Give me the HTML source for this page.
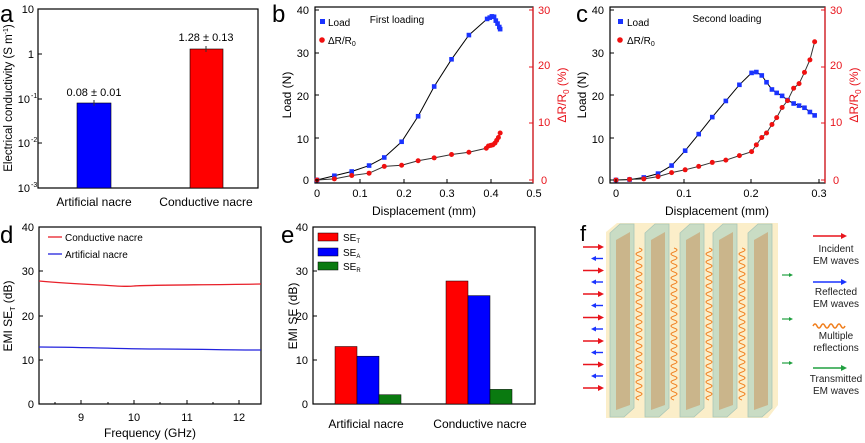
<!DOCTYPE html>
<html><head><meta charset="utf-8"><style>
body{margin:0;background:#fff}
svg{display:block;font-family:"Liberation Sans",Arial,sans-serif}
</style></head><body>
<svg width="865" height="443" viewBox="0 0 865 443" xmlns="http://www.w3.org/2000/svg">
<!-- Panel a -->
<text x="0" y="22" font-size="24">a</text>
<rect x="38" y="9" width="220" height="179" fill="none" stroke="#000" stroke-width="1.2"/>
<g font-size="11" text-anchor="end">
<text x="34" y="13">10</text>
<text x="34" y="58">1</text>
<text x="30" y="103">10</text><text x="31" y="98" font-size="7" text-anchor="start">-1</text>
<text x="30" y="147">10</text><text x="31" y="142" font-size="7" text-anchor="start">-2</text>
<text x="30" y="192">10</text><text x="31" y="187" font-size="7" text-anchor="start">-3</text>
</g>
<g stroke="#000"><line x1="38" y1="54" x2="42" y2="54"/><line x1="38" y1="99" x2="42" y2="99"/><line x1="38" y1="143" x2="42" y2="143"/></g>
<rect x="77" y="103" width="34" height="85" fill="#0000ff" stroke="#000" stroke-width="0.6"/>
<rect x="190" y="49" width="33" height="139" fill="#ff0000" stroke="#000" stroke-width="0.6"/>
<g stroke="#333"><line x1="94" y1="100" x2="94" y2="106"/><line x1="206" y1="46" x2="206" y2="52"/></g>
<text x="94" y="96" font-size="11" text-anchor="middle">0.08 ± 0.01</text>
<text x="206" y="41" font-size="11" text-anchor="middle">1.28 ± 0.13</text>
<text x="94" y="206" font-size="12" text-anchor="middle">Artificial nacre</text>
<text x="206" y="206" font-size="12" text-anchor="middle">Conductive nacre</text>
<text transform="translate(12,98) rotate(-90)" font-size="11.5" text-anchor="middle">Electrical conductivity (S m<tspan font-size="7" dy="-4">-1</tspan><tspan dy="4">)</tspan></text>

<!-- Panel b -->
<text x="272" y="22" font-size="24">b</text>
<rect x="315" y="7" width="218" height="176" fill="none" stroke="#000" stroke-width="1.2"/>
<line x1="533" y1="7" x2="533" y2="183" stroke="#e8141c" stroke-width="1.2"/>
<g font-size="11" text-anchor="end">
<text x="309" y="14">40</text><text x="309" y="57">30</text><text x="309" y="100">20</text><text x="309" y="143">10</text><text x="309" y="184">0</text>
</g>
<g fill="#e8141c" font-size="11"><text x="538" y="14">30</text><text x="538" y="69">20</text><text x="538" y="126">10</text><text x="541" y="184">0</text></g>
<g font-size="11" text-anchor="middle">
<text x="317" y="197">0</text><text x="360" y="197">0.1</text><text x="404" y="197">0.2</text><text x="447" y="197">0.3</text><text x="491" y="197">0.4</text><text x="534" y="197">0.5</text>
</g>
<text x="424" y="215" font-size="12" text-anchor="middle">Displacement (mm)</text>
<text transform="translate(291,95) rotate(-90)" font-size="12" text-anchor="middle">Load (N)</text>
<text transform="translate(566,95) rotate(-90)" font-size="12" fill="#e8141c" text-anchor="middle">ΔR/R<tspan font-size="8" dy="3">0</tspan><tspan dy="-3"> (%)</tspan></text>
<text x="397" y="23" font-size="10" text-anchor="middle">First loading</text>
<rect x="320" y="19" width="5" height="5" fill="#1a33ff"/><text x="328" y="26" font-size="10">Load</text>
<circle cx="322" cy="40" r="2.8" fill="#f01010"/><text x="328" y="44" font-size="10">ΔR/R<tspan font-size="7" dy="2">0</tspan></text>
<g id="bplot"></g>

<!-- Panel c -->
<text x="576" y="22" font-size="24">c</text>
<rect x="610" y="7" width="215" height="176" fill="none" stroke="#000" stroke-width="1.2"/>
<line x1="825" y1="7" x2="825" y2="183" stroke="#e8141c" stroke-width="1.2"/>
<g font-size="11" text-anchor="end">
<text x="604" y="14">40</text><text x="604" y="57">30</text><text x="604" y="100">20</text><text x="604" y="143">10</text><text x="604" y="184">0</text>
</g>
<g fill="#e8141c" font-size="11"><text x="830" y="14">30</text><text x="830" y="69">20</text><text x="830" y="126">10</text><text x="833" y="184">0</text></g>
<g font-size="11" text-anchor="middle">
<text x="616" y="197">0</text><text x="684" y="197">0.1</text><text x="751" y="197">0.2</text><text x="819" y="197">0.3</text>
</g>
<text x="717" y="215" font-size="12" text-anchor="middle">Displacement (mm)</text>
<text transform="translate(586,95) rotate(-90)" font-size="12" text-anchor="middle">Load (N)</text>
<text transform="translate(858,95) rotate(-90)" font-size="12" fill="#e8141c" text-anchor="middle">ΔR/R<tspan font-size="8" dy="3">0</tspan><tspan dy="-3"> (%)</tspan></text>
<text x="727" y="22" font-size="10" text-anchor="middle">Second loading</text>
<rect x="618" y="19" width="5" height="5" fill="#1a33ff"/><text x="627" y="26" font-size="10">Load</text>
<circle cx="620" cy="40" r="2.8" fill="#f01010"/><text x="627" y="44" font-size="10">ΔR/R<tspan font-size="7" dy="2">0</tspan></text>
<g id="cplot"></g>

<!-- Panel d -->
<text x="0" y="243" font-size="24">d</text>
<rect x="39" y="227" width="222" height="177" fill="none" stroke="#000" stroke-width="1.2"/>
<g font-size="11" text-anchor="end">
<text x="34" y="231">40</text><text x="34" y="275">30</text><text x="34" y="320">20</text><text x="34" y="364">10</text><text x="34" y="408">0</text>
</g>
<g font-size="11" text-anchor="middle"><text x="81" y="421">9</text><text x="134" y="421">10</text><text x="187" y="421">11</text><text x="239" y="421">12</text></g>
<text x="150" y="437" font-size="12" text-anchor="middle">Frequency (GHz)</text>
<text transform="translate(12,316) rotate(-90)" font-size="12" text-anchor="middle">EMI SE<tspan font-size="7" dy="3">T</tspan><tspan dy="-3"> (dB)</tspan></text>
<path d="M39 281 C60 283 80 284 100 285 S125 287 134 286 S200 285 261 284" fill="none" stroke="#e8202a" stroke-width="1.3"/>
<path d="M39 347 C80 347 120 349 160 349 S220 350 261 350" fill="none" stroke="#2222dd" stroke-width="1.3"/>
<line x1="48" y1="237" x2="62" y2="237" stroke="#e8202a" stroke-width="1.3"/><text x="65" y="241" font-size="10">Conductive nacre</text>
<line x1="48" y1="254" x2="62" y2="254" stroke="#2222dd" stroke-width="1.3"/><text x="65" y="258" font-size="10">Artificial nacre</text>

<!-- Panel e -->
<text x="281" y="243" font-size="24">e</text>
<rect x="313" y="227" width="222" height="177" fill="none" stroke="#000" stroke-width="1.2"/>
<g font-size="11" text-anchor="end">
<text x="308" y="231">40</text><text x="308" y="275">30</text><text x="308" y="320">20</text><text x="308" y="364">10</text><text x="308" y="408">0</text>
</g>
<text transform="translate(297,316) rotate(-90)" font-size="12" text-anchor="middle">EMI SE (dB)</text>
<g stroke="#000" stroke-width="0.5">
<rect x="335" y="346.5" width="22" height="57.5" fill="#ff0000"/>
<rect x="357" y="356.2" width="22" height="47.8" fill="#0000ff"/>
<rect x="379" y="394.7" width="22" height="9.3" fill="#0a7a10"/>
<rect x="446" y="281" width="22" height="123" fill="#ff0000"/>
<rect x="468" y="295.6" width="22" height="108.4" fill="#0000ff"/>
<rect x="490" y="389.4" width="22" height="14.6" fill="#0a7a10"/>
<rect x="318" y="233" width="20" height="8" fill="#ff0000"/>
<rect x="318" y="248" width="20" height="8" fill="#0000ff"/>
<rect x="318" y="262" width="20" height="8" fill="#0a7a10"/>
</g>
<g font-size="10"><text x="343" y="241">SE<tspan font-size="6" dy="2">T</tspan></text><text x="343" y="256">SE<tspan font-size="6" dy="2">A</tspan></text><text x="343" y="270">SE<tspan font-size="6" dy="2">R</tspan></text></g>
<text x="366" y="428" font-size="12" text-anchor="middle">Artificial nacre</text>
<text x="480" y="428" font-size="12" text-anchor="middle">Conductive nacre</text>

<!-- Panel f -->
<text x="580" y="241" font-size="22">f</text>
<polygon points="606,232 617,223 778,223 778,405 768,418 606,418" fill="#fbeec9"/>
<g id="plates"></g>
<g id="farrows"></g>
<g font-size="10" text-anchor="middle" fill="#222">
<text x="836" y="252">Incident</text><text x="836" y="264">EM waves</text>
<text x="836" y="295">Reflected</text><text x="836" y="307">EM waves</text>
<text x="836" y="339">Multiple</text><text x="836" y="351">reflections</text>
<text x="836" y="382">Transmitted</text><text x="836" y="394">EM waves</text>
</g>
<g stroke-width="1.5" fill="none">
<line x1="813" y1="236" x2="845" y2="236" stroke="#e8141c"/><path d="M841 233 L847 236 L841 239Z" fill="#e8141c" stroke="none"/>
<line x1="813" y1="282" x2="845" y2="282" stroke="#1a33ff"/><path d="M841 279 L847 282 L841 285Z" fill="#1a33ff" stroke="none"/>
<path d="M813 326 q2 -4 4 0 t4 0 t4 0 t4 0 t4 0 t4 0 t4 0 t4 0" stroke="#f08020"/>
<line x1="813" y1="368" x2="845" y2="368" stroke="#20a040"/><path d="M841 365 L847 368 L841 371Z" fill="#20a040" stroke="none"/>
</g>
<g id="ticks" stroke="#000" stroke-width="1"></g>
</svg>
<script>
const NS="http://www.w3.org/2000/svg";
function el(p,t,a){const e=document.createElementNS(NS,t);for(const k in a)e.setAttribute(k,a[k]);p.appendChild(e);return e;}
function plot(gid,x0,sx,load,dr){
 const g=document.getElementById(gid);
 const yb=180, ly=v=>yb-v*170/40, ry=v=>yb-v*170/30, X=v=>x0+v*sx;
 const pl=load.map(p=>X(p[0])+","+ly(p[1])).join(" ");
 const pr=dr.map(p=>X(p[0])+","+ry(p[1])).join(" ");
 el(g,"polyline",{points:pl,fill:"none",stroke:"#000","stroke-width":1});
 el(g,"polyline",{points:pr,fill:"none",stroke:"#333","stroke-width":1});
 load.forEach(p=>el(g,"rect",{x:X(p[0])-2.3,y:ly(p[1])-2.3,width:4.6,height:4.6,fill:"#1a33ff"}));
 dr.forEach(p=>el(g,"circle",{cx:X(p[0]),cy:ry(p[1]),r:2.5,fill:"#f01010"}));
}
plot("bplot",317,434,
[[0,0],[.04,1],[.08,2],[.12,3.4],[.155,5.3],[.195,9],[.233,15],[.27,22],[.31,28.4],[.35,34.1],[.392,37.9],[.398,38.2],[.403,38.5],[.408,38.4],[.412,37.5],[.416,36.8],[.42,36],[.422,35.5]],
[[0,0],[.04,.2],[.08,.8],[.12,1.2],[.155,2.4],[.195,2.6],[.233,3.4],[.27,3.9],[.31,4.5],[.35,4.9],[.39,5.6],[.395,6],[.4,6.1],[.405,6.2],[.41,6.5],[.414,7],[.418,7.5],[.422,8.3]]);
plot("cplot",616,678,
[[0,0],[.02,.1],[.041,.6],[.062,1.5],[.082,3.4],[.102,6.9],[.122,10.8],[.142,14.8],[.162,18.6],[.182,22.4],[.2,25.2],[.207,25.4],[.215,24.6],[.222,23],[.23,21.3],[.237,20.5],[.245,19.8],[.253,18.8],[.262,18],[.27,17.5],[.278,17],[.286,16],[.293,15.2]],
[[0,0],[.02,.1],[.041,.2],[.062,.6],[.082,1.3],[.102,1.8],[.122,2.4],[.142,3.1],[.162,3.5],[.182,4.3],[.2,5],[.207,6.2],[.215,7.5],[.222,8.3],[.23,9.8],[.237,11],[.245,12.8],[.253,14],[.262,16.2],[.27,17],[.278,19],[.286,21.2],[.293,24.4]]);
// ticks
const tg=document.getElementById("ticks");
function hl(x1,y,len,c){el(tg,"line",{x1:x1,y1:y,x2:x1+len,y2:y,stroke:c||"#000"});}
function vl(x,y1,len){el(tg,"line",{x1:x,y1:y1,x2:x,y2:y1+len});}
[10,53,95,138,180].forEach(y=>{hl(315,y,4);hl(610,y,4);});
[10,67,123,180].forEach(y=>{hl(533,y,-4,"#e8141c");hl(825,y,-4,"#e8141c");});
[317,360,404,447,491].forEach(x=>vl(x,183,-4));
[616,684,751,819].forEach(x=>vl(x,183,-4));
[227,271,316,360].forEach(y=>{hl(39,y,4);hl(313,y,4);});
[81,134,187,239].forEach(x=>vl(x,404,-4));
[55,108,160,213].forEach(x=>vl(x,404,-2));
// plates
const pg=document.getElementById("plates");
[610,645,680,713,748].forEach((x,i)=>{
 el(pg,"polygon",{points:`${x},233 ${x+10},224 ${x+24},224 ${x+24},408 ${x+14},417 ${x},417`,fill:"#c9dcc4",stroke:"#a9c6b8","stroke-width":0.8});
 el(pg,"polygon",{points:`${x+6},240 ${x+20},232 ${x+20},405 ${x+6},410`,fill:"#c9a878",opacity:0.75});
 if(i<4){let d=`M${x+29} 248`;for(let y=248;y<396;y+=8)d+=` q6 2 0 4 q-6 2 0 4`;
  el(pg,"path",{d:d,fill:"none",stroke:"#f08020","stroke-width":1});}
});
const fa=document.getElementById("farrows");
for(let i=0;i<7;i++){const y=247+i*23.5;
 el(fa,"line",{x1:583,y1:y,x2:601,y2:y,stroke:"#e8141c","stroke-width":1.6});
 el(fa,"path",{d:`M598 ${y-3} L604 ${y} L598 ${y+3}Z`,fill:"#e8141c"});
 if(i<6){const yb=y+11.5;el(fa,"line",{x1:594,y1:yb,x2:603,y2:yb,stroke:"#1a33ff","stroke-width":1.4});
 el(fa,"path",{d:`M596 ${yb-2.5} L591 ${yb} L596 ${yb+2.5}Z`,fill:"#1a33ff"});}
}
[275,319,363].forEach(y=>{el(fa,"line",{x1:782,y1:y,x2:790,y2:y,stroke:"#20a040","stroke-width":1.2});
 el(fa,"path",{d:`M789 ${y-2} L793 ${y} L789 ${y+2}Z`,fill:"#20a040"});});
</script>
</body></html>
